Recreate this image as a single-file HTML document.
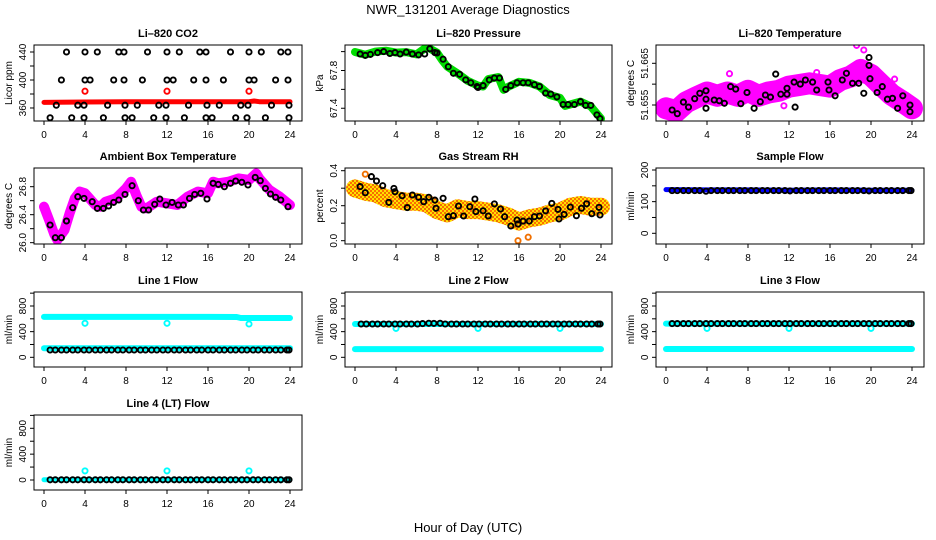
<!DOCTYPE html>
<html><head><meta charset="utf-8"><style>
body{margin:0;background:#fff;}
svg{display:block;font-family:"Liberation Sans",Arial,sans-serif;}
</style></head><body>
<svg id="chart" width="936" height="540" viewBox="0 0 936 540" xmlns="http://www.w3.org/2000/svg">
<defs>
<pattern id="rhpat" width="4" height="4" patternUnits="userSpaceOnUse">
<rect width="4" height="4" fill="#ffe000"/><rect width="2" height="2" fill="#f07000"/><rect x="2" y="2" width="2" height="2" fill="#ff2000" opacity="0.6"/>
</pattern>
</defs>
<text x="468" y="14" text-anchor="middle" font-size="13">NWR_131201  Average Diagnostics</text>
<text x="468" y="532" text-anchor="middle" font-size="13">Hour of Day (UTC)</text>
</svg>
<script>
// ---- shared
const xTicks = [0,4,8,12,16,20,24];
const flowBlackT = [0.6,1.1,1.7,2.2,2.8,3.3,3.9,4.4,5.0,5.5,6.1,6.6,7.2,7.7,8.3,8.8,9.4,9.9,10.5,11.0,11.6,12.1,12.7,13.2,13.8,14.3,14.9,15.4,16.0,16.5,17.1,17.6,18.2,18.7,19.3,19.8,20.4,20.9,21.5,22.0,22.6,23.1,23.7,23.9];
const outlierT = [4,12,20];

// ---- CO2
const co2BandT = [0,4,8,12,16,20,20.5,21,22,24];
const co2BandV = [368,368.5,369,369,369,369,370,369,369,369];
const co2RedV = [384,384,384];
const co2B440T = [2.2,4,5.2,7.3,7.8,10.1,12,13.2,15.2,15.8,18.2,20,21.2,23.1,23.8];
const co2B440V = [440,440,440,440,440,440,440,440,440,440,440,440,440,440,440];
const co2B400T = [1.7,4,4.5,6.8,7.8,9.6,12,12.6,14.6,15.8,17.5,20,20.5,22.6,23.8];
const co2B400V = [400,400,400,400,400,400,400,400,400,400,400,400,400,400,400];
const co2B364T = [1.2,3.3,3.9,6.2,7.9,9.1,11.2,11.9,14.1,15.9,17.1,19.2,19.9,22.2,23.9];
const co2B364V = [364,364,364,364,364,364,364,364,364,364,364,364,364,364,364];
const co2B346T = [0.6,2.7,3.9,5.8,7.9,8.6,10.7,11.9,13.7,15.8,16.4,18.7,19.8,21.6,23.9];
const co2B346V = [346,346,346,346,346,346,346,346,346,346,346,346,346,346,346];

// ---- Pressure
const presBandT = [0,1,2,3,4,5,6,7,8,8.5,9,10,11,12,12.5,13,14,14.5,15,16,17,18,19,20,20.5,22,23,24];
const presBandV = [67.996,67.967,68.0,68.01,67.99,67.995,67.97,68.05,67.99,67.91,67.84,67.77,67.69,67.64,67.63,67.71,67.73,67.595,67.63,67.68,67.67,67.63,67.54,67.51,67.425,67.47,67.42,67.29];
const presBlackT = [0.5,1,1.5,2.2,2.8,3.4,3.9,4.4,5,5.6,6.2,6.8,7.3,7.8,8,8.6,9.1,9.6,10.2,10.8,11.3,11.9,12,12.5,13.1,13.6,14.1,14.7,15.2,15.8,16.4,16.9,17.5,18,18.6,19.1,19.7,20.3,20.8,21.4,22,22.5,23,23.6,23.9];
const presBlackV = [67.975,67.96,67.97,67.99,68.0,67.98,67.99,67.975,67.995,67.975,67.965,67.975,68.03,67.99,67.985,67.92,67.84,67.77,67.76,67.7,67.67,67.63,67.62,67.64,67.7,67.72,67.72,67.6,67.64,67.67,67.67,67.67,67.65,67.63,67.56,67.55,67.52,67.44,67.44,67.44,67.47,67.43,67.43,67.33,67.29];

// ---- Li-820 Temperature
const tempBandT = [0,1,2,3,4,5,6,7,8,9,10,11,12,13,14,15,16,17,18,19,20,21,22,23,24];
const tempBandV = [51.6542,51.6535,51.6557,51.6569,51.658,51.6572,51.658,51.6572,51.6584,51.6572,51.658,51.6584,51.6594,51.6598,51.6602,51.6598,51.6594,51.661,51.6618,51.6634,51.6622,51.6598,51.6575,51.6559,51.6542];
const tempOutT = [18.6,19.3,6.2,14.7,11.5,1.3,22.3];
const tempOutV = [51.6693,51.6682,51.6625,51.6628,51.6548,51.6528,51.6612];
const tempBlackT = [0.6,1.1,1.7,2.2,2.8,3.3,3.9,3.9,3.9,4.7,5.2,5.7,6.3,6.8,7.3,7.9,8.6,9.2,9.7,10.2,10.7,11.2,11.8,11.8,12.5,12.6,13.1,13.6,14.3,14.7,15.8,15.9,16.5,17.2,17.6,18.2,18.8,19.3,19.8,19.8,19.9,20.6,21.1,21.6,22.1,22.6,23.1,23.8,23.8];
const tempBlackV = [51.6538,51.6529,51.6557,51.6545,51.6565,51.6578,51.6564,51.6584,51.6542,51.6562,51.656,51.6554,51.6594,51.6588,51.6553,51.658,51.6542,51.6558,51.6574,51.6569,51.6624,51.6576,51.6576,51.659,51.6605,51.6545,51.66,51.661,51.6605,51.6586,51.6605,51.6586,51.6572,51.661,51.6626,51.6602,51.6602,51.6578,51.6645,51.6664,51.6613,51.658,51.6594,51.6564,51.6566,51.6542,51.6572,51.655,51.6534];

// ---- Ambient box temperature
const ambBandT = [0,0.5,1,1.3,2,2.5,3,3.5,4,5,5.5,6,7,8,8.5,9,9.5,10,11,12,13,14,15,16,16.5,17,18,19,20,20.7,21,22,23,24];
const ambBandV = [26.514,26.324,26.119,26.04,26.18,26.42,26.633,26.73,26.705,26.54,26.514,26.586,26.633,26.776,26.871,26.68,26.514,26.49,26.586,26.562,26.538,26.657,26.73,26.705,26.871,26.848,26.871,26.919,26.895,26.99,26.919,26.752,26.657,26.538];
const ambBlackT = [0.6,1.1,1.7,2.2,2.8,3.3,3.9,4.7,5.2,5.8,6.3,6.8,7.3,7.9,8.6,9.2,9.7,10.2,10.8,11.3,11.9,12.5,13.1,13.6,14.2,14.7,15.3,15.9,16.5,17,17.6,18.2,18.7,19.3,19.9,20.6,21.1,21.6,22.1,22.6,23.1,23.8];
const ambBlackV = [26.252,26.071,26.071,26.31,26.5,26.657,26.633,26.586,26.49,26.49,26.524,26.576,26.61,26.69,26.814,26.6,26.467,26.467,26.548,26.624,26.538,26.576,26.538,26.538,26.633,26.69,26.705,26.624,26.848,26.833,26.8,26.848,26.881,26.862,26.824,26.933,26.886,26.776,26.695,26.648,26.61,26.514];

// ---- Gas stream RH
const rhBandT = [0,1,2,3,4,5,6,7,8,9,10,11,12,13,14,15,16,17,18,19,20,21,22,23,24];
const rhBandV = [0.299,0.28,0.27,0.242,0.232,0.223,0.223,0.213,0.175,0.156,0.185,0.175,0.175,0.166,0.156,0.137,0.109,0.128,0.137,0.156,0.166,0.194,0.204,0.194,0.194];
const rhOutT = [15.9,16.9,1.0];
const rhOutV = [0.0,0.02,0.38];
const rhBlackT = [0.5,1,1.6,2.1,2.7,3.3,3.8,3.9,4.6,5.1,5.6,6.2,6.7,7.2,7.8,7.9,8.6,9.1,9.6,10.1,10.6,11.2,11.7,11.8,12.5,13,13.6,14.2,14.6,15.2,15.8,15.9,16.4,17,17.5,18,18.6,19.2,19.8,19.9,20.4,21,21.6,22.1,22.6,23.1,23.8,23.9];
const rhBlackV = [0.309,0.274,0.366,0.341,0.314,0.219,0.299,0.28,0.257,0.189,0.261,0.248,0.223,0.248,0.232,0.185,0.242,0.137,0.143,0.198,0.141,0.194,0.238,0.166,0.171,0.141,0.21,0.181,0.137,0.084,0.118,0.095,0.112,0.112,0.137,0.141,0.17,0.213,0.179,0.124,0.15,0.192,0.143,0.185,0.211,0.154,0.19,0.147];

// ---- Sample flow
const sfBandT = [0,4,8,12,16,20,24];
const sfBandV = [138,137,137,136,137,136,136];
const sfBlackV = [135,135,135,135,135,135,133,135,135,135,135,135,135,135,135,135,135,135,135,135,135,134,135,135,135,135,135,135,135,135,135,135,135,135,135,134,135,135,135,135,135,135,135,135];

// ---- Line 1 flow
const l1HighT = [0,4,8,12,16,18.8,19.2,24];
const l1HighV = [630,630,630,630,630,628,612,612];
const l1LowT = [0,24];
const l1LowV = [140,140];
const l1OutV = [530,530,520];
const l1BlackV = [114,114,114,114,114,114,114,114,114,114,114,114,114,114,114,114,114,114,114,114,114,114,114,114,114,114,114,114,114,114,114,114,114,114,114,114,114,114,114,114,114,114,114,114];

// ---- Line 2 flow
const l2HighT = [0,24];
const l2HighV = [520,520];
const l2LowT = [0,24];
const l2LowV = [128,128];
const l2OutV = [450,450,450];
const l2BlackV = [520,520,520,520,520,520,520,520,520,520,520,525,530,528,530,520,520,520,520,520,520,520,520,520,520,520,520,520,520,520,520,520,520,520,520,520,520,520,520,520,520,520,520,520];

// ---- Line 3 flow
const l3HighT = [0,24];
const l3HighV = [525,525];
const l3LowT = [0,24];
const l3LowV = [130,130];
const l3OutV = [450,450,450];
const l3BlackV = [525,525,525,525,525,525,525,525,525,525,525,525,525,525,525,525,525,525,525,525,525,525,525,525,525,525,525,525,525,525,525,525,525,525,525,525,525,525,525,525,525,525,525,525];

// ---- Line 4 flow
const l4BandT = [0,24];
const l4BandV = [5,5];
const l4OutV = [140,140,140];
const l4BlackV = [3,3,3,3,3,3,3,3,3,3,3,3,3,3,3,3,3,3,3,3,3,3,3,3,3,3,3,3,3,3,3,3,3,3,3,3,3,3,3,3,3,3,3,3];

const NS = "http://www.w3.org/2000/svg";
const svg = document.getElementById('chart');
function mk(tag, attrs, parent){const e=document.createElementNS(NS,tag);for(const k in attrs)e.setAttribute(k,attrs[k]);(parent||svg).appendChild(e);return e;}

const panels = [
 {name:'co2',title:'Li\u2013820 CO2',ylab:'Licor ppm',box:[34,45,302,121],ylim:[341.4,450],ticks:[360,380,400,420,440],labels:[360,400,440],fmt:v=>String(v)},
 {name:'pressure',title:'Li\u2013820 Pressure',ylab:'kPa',box:[345,45,612,121],ylim:[67.265,68.07],ticks:[67.4,67.6,67.8,68.0],labels:[67.4,67.8],fmt:v=>v.toFixed(1)},
 {name:'li820-temp',title:'Li\u2013820 Temperature',ylab:'degrees C',box:[656,45,924,121],ylim:[51.65116,51.66939],ticks:[51.655,51.66,51.665],labels:[51.655,51.665],fmt:v=>v.toFixed(3)},
 {name:'ambient-temp',title:'Ambient Box Temperature',ylab:'degrees C',box:[34,168,302,244],ylim:[25.981,27.067],ticks:[26.0,26.2,26.4,26.6,26.8],labels:[26.0,26.4,26.8],fmt:v=>v.toFixed(1)},
 {name:'rh',title:'Gas Stream RH',ylab:'percent',box:[345,168,612,244],ylim:[-0.0189,0.4154],ticks:[0,0.1,0.2,0.3,0.4],labels:[0,0.2,0.4],fmt:v=>v.toFixed(1)},
 {name:'sample-flow',title:'Sample Flow',ylab:'ml/min',box:[656,168,924,244],ylim:[-33.8,206.3],ticks:[0,50,100,150,200],labels:[0,100,200],fmt:v=>String(v)},
 {name:'line1-flow',title:'Line 1 Flow',ylab:'ml/min',box:[34,292,302,367],ylim:[-151,1018],ticks:[0,200,400,600,800,1000],labels:[0,400,800],fmt:v=>String(v)},
 {name:'line2-flow',title:'Line 2 Flow',ylab:'ml/min',box:[345,292,612,367],ylim:[-151,1018],ticks:[0,200,400,600,800,1000],labels:[0,400,800],fmt:v=>String(v)},
 {name:'line3-flow',title:'Line 3 Flow',ylab:'ml/min',box:[656,292,924,367],ylim:[-151,1018],ticks:[0,200,400,600,800,1000],labels:[0,400,800],fmt:v=>String(v)},
 {name:'line4-flow',title:'Line 4 (LT) Flow',ylab:'ml/min',box:[34,415,302,490],ylim:[-155,1006],ticks:[0,200,400,600,800,1000],labels:[0,400,800],fmt:v=>String(v)}
];

function makeAxes(p){
 const [l,t,r,b]=p.box;
 const xs=h=>l+10+h*(246/24);
 const ys=v=>b-(v-p.ylim[0])/(p.ylim[1]-p.ylim[0])*(b-t);
 return {xs,ys};
}

function band(g,ax,T,V,color,w,name){
 let d='';T.forEach((h,i)=>{d+=(i?'L':'M')+ax.xs(h).toFixed(1)+' '+ax.ys(V[i]).toFixed(1);});
 const e=mk('path',{d:d,fill:'none',stroke:color,'stroke-width':w,'stroke-linecap':'round','stroke-linejoin':'round'},g);
 
 
}
function pts(g,ax,T,V,color,name,r){
 T.forEach((h,i)=>{
  const c=mk('circle',{cx:ax.xs(h).toFixed(1),cy:ax.ys(V[i]).toFixed(1),r:r||2.6,fill:'none',stroke:color,'stroke-width':1.9},g);
  
  
 });
}

const series = {
 'co2':(g,ax)=>{band(g,ax,co2BandT,co2BandV,'#ff0000',5,'co2-band');pts(g,ax,outlierT,co2RedV,'#ff0000','co2-red-point');
   pts(g,ax,co2B440T,co2B440V,'#000','co2-black-point');pts(g,ax,co2B400T,co2B400V,'#000','co2-black-point');pts(g,ax,co2B364T,co2B364V,'#000','co2-black-point');pts(g,ax,co2B346T,co2B346V,'#000','co2-black-point');},
 'pressure':(g,ax)=>{band(g,ax,presBandT,presBandV,'#00dd00',8,'pressure-band');pts(g,ax,presBlackT,presBlackV,'#000','pressure-point');},
 'li820-temp':(g,ax)=>{band(g,ax,tempBandT,tempBandV,'#ff00ff',22,'temp-band');pts(g,ax,tempOutT,tempOutV,'#ff00ff','temp-outlier');pts(g,ax,tempBlackT,tempBlackV,'#000','temp-point');},
 'ambient-temp':(g,ax)=>{band(g,ax,ambBandT,ambBandV,'#ff00ff',10,'ambient-band');pts(g,ax,ambBlackT,ambBlackV,'#000','ambient-point');},
 'rh':(g,ax)=>{band(g,ax,rhBandT,rhBandV,'url(#rhpat)',18,'rh-band');pts(g,ax,rhOutT,rhOutV,'#f07000','rh-outlier');pts(g,ax,rhBlackT,rhBlackV,'#000','rh-point');},
 'sample-flow':(g,ax)=>{band(g,ax,sfBandT,sfBandV,'#0000ff',5,'sample-flow-band');pts(g,ax,flowBlackT,sfBlackV,'#000','sample-flow-point');},
 'line1-flow':(g,ax)=>{band(g,ax,l1HighT,l1HighV,'#00ffff',6,'line1-high-band');band(g,ax,l1LowT,l1LowV,'#00ffff',6,'line1-low-band');pts(g,ax,outlierT,l1OutV,'#00ffff','line1-outlier');pts(g,ax,flowBlackT,l1BlackV,'#000','line1-point');},
 'line2-flow':(g,ax)=>{band(g,ax,l2HighT,l2HighV,'#00ffff',6,'line2-high-band');band(g,ax,l2LowT,l2LowV,'#00ffff',6,'line2-low-band');pts(g,ax,outlierT,l2OutV,'#00ffff','line2-outlier');pts(g,ax,flowBlackT,l2BlackV,'#000','line2-point');},
 'line3-flow':(g,ax)=>{band(g,ax,l3HighT,l3HighV,'#00ffff',6,'line3-high-band');band(g,ax,l3LowT,l3LowV,'#00ffff',6,'line3-low-band');pts(g,ax,outlierT,l3OutV,'#00ffff','line3-outlier');pts(g,ax,flowBlackT,l3BlackV,'#000','line3-point');},
 'line4-flow':(g,ax)=>{band(g,ax,l4BandT,l4BandV,'#00ffff',5,'line4-band');pts(g,ax,outlierT,l4OutV,'#00ffff','line4-outlier');pts(g,ax,flowBlackT,l4BlackV,'#000','line4-point');}
};

panels.forEach(p=>{
 const [l,t,r,b]=p.box;
 const ax=makeAxes(p);
 const g=mk('g',{});
 
 
 const cp=mk('clipPath',{id:'clip-'+p.name},g);
 mk('rect',{x:l,y:t,width:r-l,height:b-t},cp);
 const pg=mk('g',{'clip-path':'url(#clip-'+p.name+')'},g);
 
 
 series[p.name](pg,ax);
 const box=mk('rect',{x:l,y:t,width:r-l,height:b-t,fill:'none',stroke:'#000','stroke-width':1},g);
 
 
 const tt=mk('text',{x:(l+r)/2,y:t-8,'text-anchor':'middle','font-size':11,'font-weight':'bold'},g);
 tt.textContent=p.title;
 
 
 xTicks.forEach(h=>{
  const x=ax.xs(h);
  mk('line',{x1:x,x2:x,y1:b,y2:b+4,stroke:'#000'},g);
  const lb=mk('text',{x:x,y:b+17,'text-anchor':'middle','font-size':10},g);
  lb.textContent=h;
  
  
 });
 p.ticks.forEach(v=>{const y=ax.ys(v);mk('line',{x1:l-4,x2:l,y1:y,y2:y,stroke:'#000'},g);});
 p.labels.forEach(v=>{
  const y=ax.ys(v);
  const lb=mk('text',{x:0,y:0,'text-anchor':'middle','font-size':10,transform:'translate('+(l-8)+','+y.toFixed(1)+') rotate(-90)'},g);
  lb.textContent=p.fmt(v);
  
  
 });
 const yl=mk('text',{x:0,y:0,'text-anchor':'middle','font-size':10,transform:'translate('+(l-22)+','+((t+b)/2)+') rotate(-90)'},g);
 yl.textContent=p.ylab;
 
 
});
</script>
</body></html>
